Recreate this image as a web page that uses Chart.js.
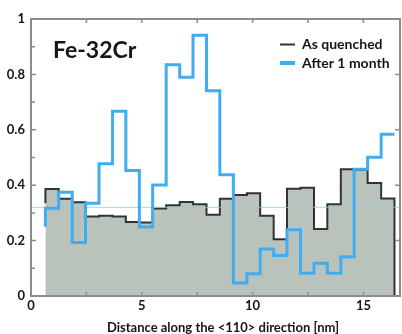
<!DOCTYPE html>
<html>
<head>
<meta charset="utf-8">
<script src="https://cdn.jsdelivr.net/npm/chart.js@4.4.1/dist/chart.umd.min.js"></script>
<style>
  html, body { margin: 0; padding: 0; background: #fff; }
  #wrap { width: 402px; height: 334px; }
</style>
</head>
<body>
<div id="wrap"><canvas id="fecrChart" width="402" height="334"></canvas></div>
<script>
// bin edges along the <110> direction (nm), 26 bins
const distanceEdges = [0.65, 1.25, 1.86, 2.46, 3.07, 3.68, 4.28, 4.89, 5.49, 6.10, 6.71, 7.31, 7.92,
  8.52, 9.13, 9.74, 10.34, 10.95, 11.55, 12.16, 12.77, 13.37, 13.98, 14.58, 15.19, 15.80, 16.40];

// one value per bin
const asQuenched = [0.386, 0.351, 0.338, 0.287, 0.290, 0.287, 0.267, 0.265, 0.316, 0.328, 0.339, 0.331, 0.293,
  0.351, 0.365, 0.371, 0.290, 0.205, 0.387, 0.391, 0.242, 0.331, 0.458, 0.455, 0.408, 0.352];
const afterOneMonth = [0.317, 0.375, 0.193, 0.335, 0.477, 0.667, 0.453, 0.249, 0.401, 0.835, 0.790, 0.941, 0.741,
  0.438, 0.047, 0.080, 0.170, 0.146, 0.239, 0.082, 0.118, 0.082, 0.142, 0.458, 0.501, 0.584];
const quenchedStart = 0.335;   // where the black outline starts on the left edge
const monthStart = 0.25;       // where the blue line starts on the left edge
const referenceLevel = 0.32;   // thin light-blue line

const xMax = 16.65;
const xTickValues = [0, 5, 10, 15];
const yTickValues = [0, 0.2, 0.4, 0.6, 0.8, 1];

const seriesNames = ['As quenched', 'After 1 month'];
const alloyName = 'Fe-32Cr';
const xAxisTitle = 'Distance along the <110> direction [nm]';

// build step points: each point carries the value of the bin that starts there
function stepPoints(values, startValue, closeToZero) {
  const pts = [{ x: distanceEdges[0], y: startValue }];
  values.forEach((v, i) => pts.push({ x: distanceEdges[i], y: v }));
  pts.push({ x: distanceEdges[distanceEdges.length - 1], y: values[values.length - 1] });
  if (closeToZero) pts.push({ x: distanceEdges[distanceEdges.length - 1], y: 0 });
  return pts;
}

const font = 'Lato, "Open Sans", sans-serif';
const frameColor = '#8c8c8c';
const blue = '#3fadef';

const decorations = {
  id: 'decorations',
  afterDraw(chart) {
    const { ctx, chartArea: a, scales: { x, y } } = chart;
    ctx.save();
    ctx.strokeStyle = frameColor;
    ctx.lineWidth = 1.5;
    ctx.beginPath();
    // left ticks, every 0.1
    for (let i = 0; i <= 10; i++) {
      const py = y.getPixelForValue(i / 10);
      const len = i % 2 === 0 ? 5 : 4;
      ctx.moveTo(a.left, py); ctx.lineTo(a.left + len, py);
    }
    // right ticks, majors only
    yTickValues.forEach(v => {
      const py = y.getPixelForValue(v);
      ctx.moveTo(a.right, py); ctx.lineTo(a.right - 5, py);
    });
    // top and bottom ticks, every 2.5
    for (let i = 0; i <= 6; i++) {
      const px = x.getPixelForValue(i * 2.5);
      ctx.moveTo(px, a.top); ctx.lineTo(px, a.top + 4);
      ctx.moveTo(px, a.bottom); ctx.lineTo(px, a.bottom - 4);
    }
    ctx.stroke();

    ctx.lineWidth = 2;
    ctx.strokeRect(a.left, a.top, a.right - a.left, a.bottom - a.top);

    // alloy label
    ctx.fillStyle = '#151515';
    ctx.textBaseline = 'middle';
    ctx.textAlign = 'left';
    ctx.font = 'bold 23px ' + font;
    ctx.fillText(alloyName, 53, 51);

    // legend
    ctx.font = 'bold 14px ' + font;
    ctx.strokeStyle = '#333';
    ctx.lineWidth = 2;
    ctx.beginPath(); ctx.moveTo(280, 44.5); ctx.lineTo(295, 44.5); ctx.stroke();
    ctx.fillText(seriesNames[0], 302, 44.5);
    ctx.strokeStyle = blue;
    ctx.lineWidth = 4;
    ctx.beginPath(); ctx.moveTo(280, 63); ctx.lineTo(295, 63); ctx.stroke();
    ctx.fillText(seriesNames[1], 302, 63);

    // x axis title
    ctx.textAlign = 'center';
    ctx.font = 'bold 13px ' + font;
    ctx.fillText(xAxisTitle, 223, 327.5);
    ctx.restore();
  }
};

const ctx = document.getElementById('fecrChart').getContext('2d');
const chart = new Chart(ctx, {
  type: 'line',
  data: {
    datasets: [
      {
        label: seriesNames[1],
        data: stepPoints(afterOneMonth, monthStart, false),
        stepped: 'before',
        borderColor: blue,
        borderWidth: 3,
        fill: false,
        pointRadius: 0,
        order: 0
      },
      {
        label: 'reference',
        data: [{ x: 0, y: referenceLevel }, { x: xMax, y: referenceLevel }],
        borderColor: 'rgba(140, 200, 240, 0.75)',
        borderWidth: 1,
        fill: false,
        pointRadius: 0,
        order: 1
      },
      {
        label: seriesNames[0],
        data: stepPoints(asQuenched, quenchedStart, true),
        stepped: 'before',
        borderColor: '#333',
        borderWidth: 2,
        backgroundColor: 'rgb(186, 194, 188)',
        fill: 'origin',
        pointRadius: 0,
        order: 2
      }
    ]
  },
  options: {
    responsive: false,
    animation: false,
    devicePixelRatio: 1,
    layout: { padding: { top: 19, right: 2, left: 0, bottom: 0 } },
    plugins: { legend: { display: false }, tooltip: { enabled: false } },
    scales: {
      x: {
        type: 'linear',
        min: 0,
        max: xMax,
        afterBuildTicks: s => { s.ticks = xTickValues.map(v => ({ value: v })); },
        afterFit: s => { s.height = 38; },
        grid: { display: false, drawTicks: false },
        border: { display: false },
        ticks: {
          padding: 2,
          maxRotation: 0,
          autoSkip: false,
          color: '#151515',
          font: { family: font, weight: 'bold', size: 13 }
        }
      },
      y: {
        min: 0,
        max: 1,
        afterBuildTicks: s => { s.ticks = yTickValues.map(v => ({ value: v })); },
        afterFit: s => { s.width = 31; },
        grid: { display: false, drawTicks: false },
        border: { display: false },
        ticks: {
          padding: 6,
          color: '#151515',
          font: { family: font, weight: 'bold', size: 13 },
          callback: v => String(Math.round(v * 10) / 10)
        }
      }
    }
  },
  plugins: [decorations]
});
</script>
</body>
</html>
